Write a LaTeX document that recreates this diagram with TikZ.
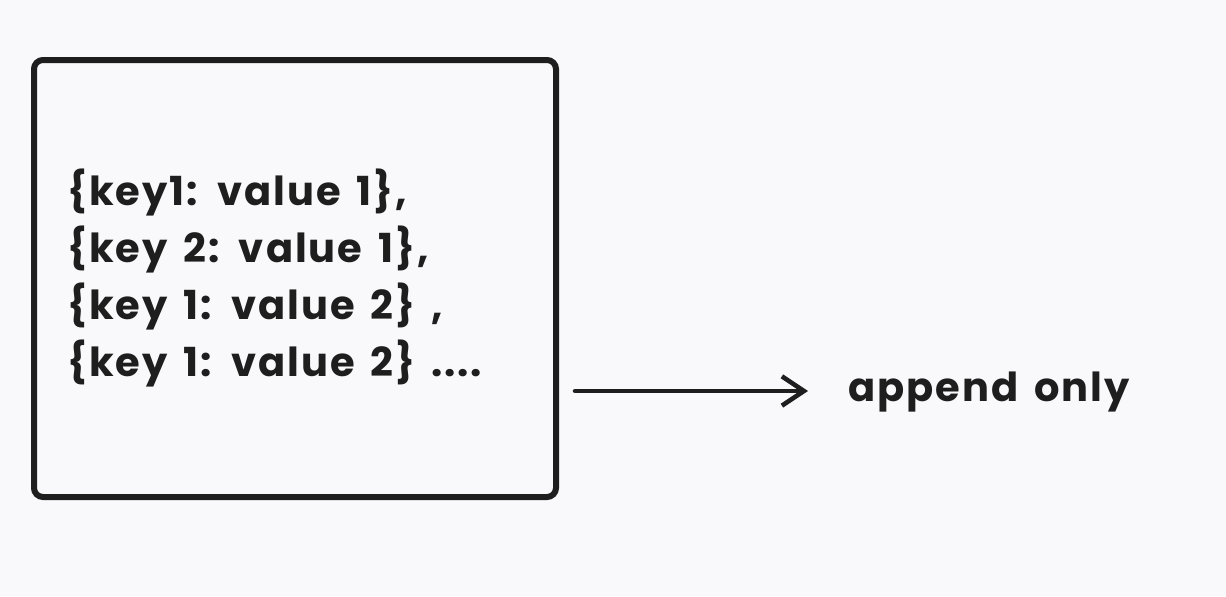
\documentclass[tikz,border=0pt]{standalone}
\usepackage{fontspec}
\setmainfont{Poppins}[LetterSpace=5, WordSpace=1.5]
\usetikzlibrary{arrows.meta}
\definecolor{ink}{HTML}{1E1E1E}
\definecolor{bg}{HTML}{F9F9FB}
\tikzset{
  frame/.style={draw=ink, line width=4.5pt, rounded corners=6.75pt},
  entry/.style={font=\fontsize{30}{36}\selectfont\bfseries, text=ink, inner sep=0pt, anchor=base west},
  flow/.style={draw=ink, line width=3.4pt, line cap=round, -{Straight Barb[length=16.5pt, width=22pt, line width=3.4pt]}},
  label/.style={font=\fontsize{30}{36}\selectfont\bfseries, text=ink, inner sep=0pt, anchor=base west}
}
\begin{document}
\begin{tikzpicture}[x=0.75pt, y=-0.75pt]
\useasboundingbox[fill=bg] (0,0) rectangle (1226,596);
\node[frame, minimum width=391.5pt, minimum height=327.75pt, anchor=north west] (box) at (31,57) {};
\node[entry] (l1) at (67,205) {\{key1: value 1\},};
\node[entry] (l2) at (67,262) {\{key 2: value 1\},};
\node[entry] (l3) at (67,319) {\{key 1: value 2\} ,};
\node[entry] (l4) at (67,376) {\{key 1: value 2\} ....};
\coordinate (start) at (575,391);
\coordinate (tip) at (808,391);
\node[label] (ap) at (848,401) {append only};
\draw[flow] (start) -- (tip);
\end{tikzpicture}
\end{document}
